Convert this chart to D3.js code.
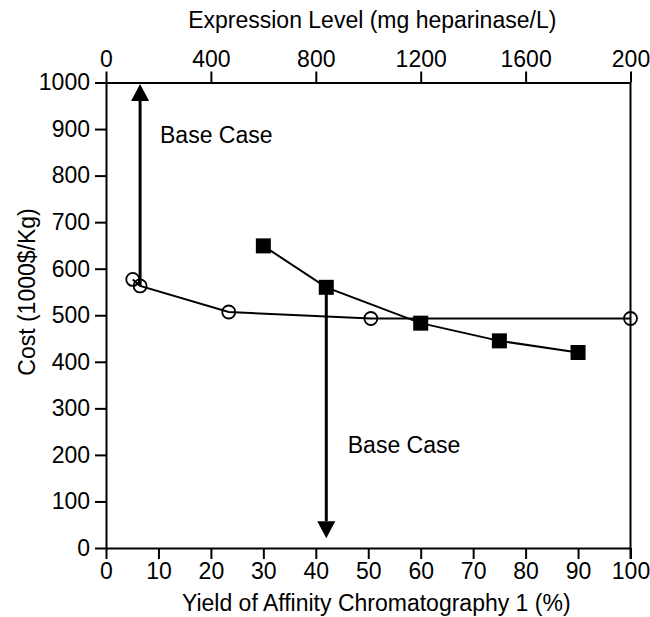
<!DOCTYPE html>
<html>
<head>
<meta charset="utf-8">
<script src="https://cdn.jsdelivr.net/npm/d3@7"></script>
<style>
  body { margin: 0; background: #fff; }
  svg text { font-family: "Liberation Sans", Arial, Helvetica, sans-serif; fill: #000; }
  .axis path, .axis line { stroke: #000; stroke-width: 2; }
</style>
</head>
<body>
<svg width="650" height="617"></svg>
<script>
// bottom axis: yield of affinity chromatography 1 (%), filled squares
var yieldPct   = [30, 42, 60, 75, 90];
var yieldCost  = [649, 560, 483, 445, 420];
// top axis: expression level (mg heparinase/L), open circles
var exprLevel  = [102, 130, 468, 1010, 2000];
var exprCost   = [577, 563, 507, 493, 493];

var bottomTicks = [0, 10, 20, 30, 40, 50, 60, 70, 80, 90, 100];
var topTicks    = [0, 400, 800, 1200, 1600, 2000];
var topLabels   = ["0", "400", "800", "1200", "1600", "200"];
var leftTicks   = [0, 100, 200, 300, 400, 500, 600, 700, 800, 900, 1000];

// base case arrows: [axis value, cost from, cost to]
var baseExpr  = [130, 563, 997];
var baseYield = [42, 560, 21];

var margin = { top: 82.5, right: 19.5, bottom: 69, left: 106 };
var width  = 650 - margin.left - margin.right;
var height = 617 - margin.top - margin.bottom;

var svg = d3.select("svg");
var g = svg.append("g")
  .attr("transform", `translate(${margin.left},${margin.top})`);

var x  = d3.scaleLinear().domain([0, 100]).range([0, width]);
var xt = d3.scaleLinear().domain([0, 2000]).range([0, width]);
var y  = d3.scaleLinear().domain([0, 1000]).range([height, 0]);

// axes
g.append("g").attr("class", "axis")
  .attr("transform", `translate(0,${height})`)
  .call(d3.axisBottom(x).tickValues(bottomTicks).tickSize(11).tickSizeOuter(0).tickPadding(4)
    .tickFormat(d3.format("d")))
  .selectAll("text").attr("font-size", 23);

g.append("g").attr("class", "axis")
  .call(d3.axisTop(xt).tickValues(topTicks).tickSize(11).tickSizeOuter(0).tickPadding(5)
    .tickFormat(function(d, i) { return topLabels[i]; }))
  .selectAll("text").attr("font-size", 23);

g.append("g").attr("class", "axis")
  .call(d3.axisLeft(y).tickValues(leftTicks).tickSize(11).tickSizeOuter(0).tickPadding(5)
    .tickFormat(d3.format("d")))
  .selectAll("text").attr("font-size", 23);

g.append("line")
  .attr("x1", width).attr("x2", width)
  .attr("y1", 0).attr("y2", height + 11)
  .attr("stroke", "#000").attr("stroke-width", 2);

// titles
svg.append("text")
  .attr("x", margin.left + width / 2 + 4).attr("y", 28)
  .attr("text-anchor", "middle").attr("font-size", 23)
  .text("Expression Level (mg heparinase/L)");

svg.append("text")
  .attr("x", margin.left + width / 2 + 8).attr("y", 611)
  .attr("text-anchor", "middle").attr("font-size", 23)
  .text("Yield of Affinity Chromatography 1 (%)");

svg.append("text")
  .attr("transform", "translate(35,292) rotate(-90)")
  .attr("text-anchor", "middle").attr("font-size", 23)
  .text("Cost (1000$/Kg)");

// series lines
var lineExpr = d3.line()
  .x(function(d, i) { return xt(exprLevel[i]); })
  .y(function(d, i) { return y(exprCost[i]); });
var lineYield = d3.line()
  .x(function(d, i) { return x(yieldPct[i]); })
  .y(function(d, i) { return y(yieldCost[i]); });

g.append("path")
  .datum(exprLevel)
  .attr("d", lineExpr)
  .attr("fill", "none").attr("stroke", "#000").attr("stroke-width", 2);

g.append("path")
  .datum(yieldPct)
  .attr("d", lineYield)
  .attr("fill", "none").attr("stroke", "#000").attr("stroke-width", 2);

// base case arrows
function arrow(px, v0, v1) {
  var tip = y(v1);
  var dir = tip < y(v0) ? -1 : 1; // -1 = pointing up on screen
  var hh = 17, hw = 9;
  var base = tip - dir * hh;
  g.append("line")
    .attr("x1", px).attr("x2", px)
    .attr("y1", y(v0)).attr("y2", base)
    .attr("stroke", "#000").attr("stroke-width", 3);
  g.append("path")
    .attr("d", `M${px},${tip}L${px - hw},${base}L${px + hw},${base}Z`)
    .attr("fill", "#000");
}
arrow(xt(baseExpr[0]), baseExpr[1], baseExpr[2]);
arrow(x(baseYield[0]), baseYield[1], baseYield[2]);

// markers
g.selectAll(".sq")
  .data(yieldPct)
  .enter().append("rect")
  .attr("class", "sq")
  .attr("x", function(d) { return x(d) - 7.5; })
  .attr("y", function(d, i) { return y(yieldCost[i]) - 7.5; })
  .attr("width", 15).attr("height", 15)
  .attr("fill", "#000");

g.selectAll(".circ")
  .data(exprLevel)
  .enter().append("circle")
  .attr("class", "circ")
  .attr("cx", function(d) { return xt(d); })
  .attr("cy", function(d, i) { return y(exprCost[i]); })
  .attr("r", 6.5)
  .attr("fill", "none")
  .attr("stroke", "#000").attr("stroke-width", 1.8);

// labels
g.append("text")
  .attr("x", x(10.3)).attr("y", y(870))
  .attr("font-size", 23)
  .text("Base Case");

g.append("text")
  .attr("x", x(46.1)).attr("y", y(204))
  .attr("font-size", 23)
  .text("Base Case");
</script>
</body>
</html>
